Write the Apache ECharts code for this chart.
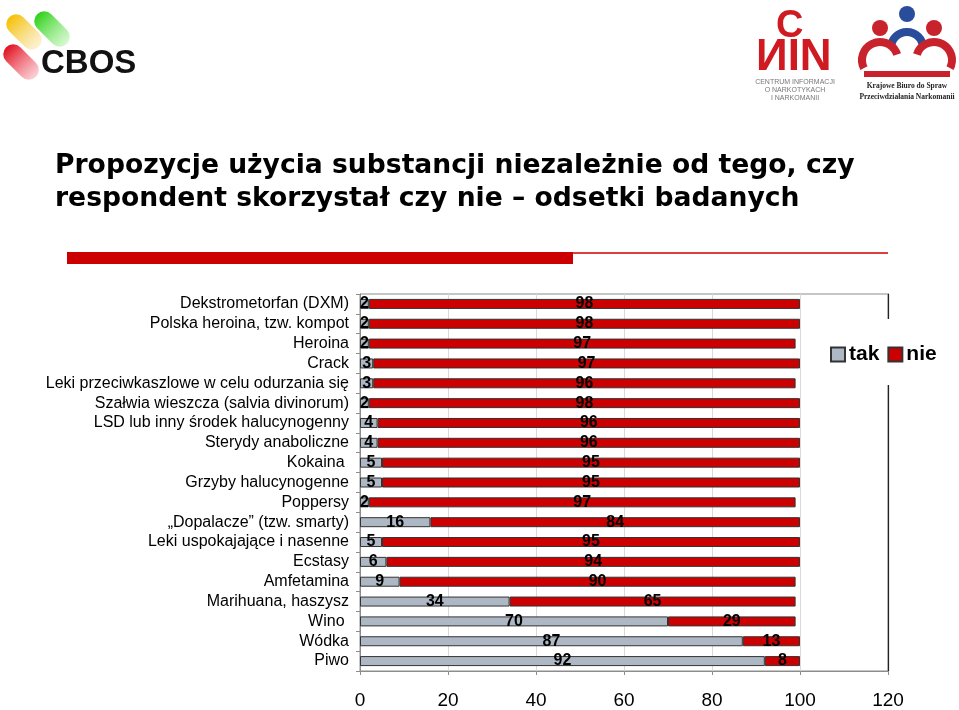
<!DOCTYPE html>
<html><head><meta charset="utf-8">
<script src="https://cdn.jsdelivr.net/npm/echarts@6/dist/echarts.min.js"></script>
<style>html,body{margin:0;padding:0;background:#fff}#c{width:959px;height:710px}</style>
</head><body><div id="c"></div>
<script>
const categories = ["Dekstrometorfan (DXM)","Polska heroina, tzw. kompot","Heroina","Crack","Leki przeciwkaszlowe w celu odurzania się","Szałwia wieszcza (salvia divinorum)","LSD lub inny środek halucynogenny","Sterydy anaboliczne","Kokaina ","Grzyby halucynogenne","Poppersy","„Dopalacze” (tzw. smarty)","Leki uspokajające i nasenne","Ecstasy","Amfetamina","Marihuana, haszysz","Wino ","Wódka","Piwo"];
const tak = [2,2,2,3,3,2,4,4,5,5,2,16,5,6,9,34,70,87,92];
const nie = [98,98,97,97,96,98,96,96,95,95,97,84,95,94,90,65,29,13,8];
const xTicks = [0,20,40,60,80,100,120];
const seriesNames = ["tak","nie"];

const chart = echarts.init(document.getElementById('c'));
const lbl = {show:true, position:'inside', color:'#000', fontFamily:'Arial, Liberation Sans', fontSize:16, fontWeight:'bold'};
function pill(cx, cy, c1, c2){
  return {type:'rect', x:cx, y:cy, rotation:Math.PI*0.25, shape:{x:-10, y:-21, width:20, height:42, r:10},
    style:{fill:{type:'linear',x:0,y:0,x2:0,y2:1,colorStops:[{offset:0,color:c1},{offset:1,color:c2}]}}};
}
chart.setOption({
  animation:false,
  backgroundColor:'#fff',
  grid:{left:360, right:71, top:294, bottom:39, show:true, borderColor:'#8c8c8c', borderWidth:1, backgroundColor:'transparent'},
  legend:{
    data:seriesNames, left:826, top:319, orient:'horizontal', backgroundColor:'#fff',
    padding:[25,8,20,4], itemGap:8, itemWidth:14, itemHeight:14, icon:'rect',
    textStyle:{fontFamily:'Arial, Liberation Sans', fontSize:21, fontWeight:'bold', color:'#000', padding:[0,0,0,-1]}
  },
  xAxis:{type:'value', min:0, max:120, interval:20,
    axisLine:{show:true, lineStyle:{color:'#8c8c8c'}},
    axisTick:{show:true, length:4, lineStyle:{color:'#8c8c8c'}},
    splitLine:{show:true, lineStyle:{color:'#d9d9d9', width:1}},
    axisLabel:{formatter:v=>xTicks.includes(v)?String(v):'', fontFamily:'Arial, Liberation Sans', fontSize:19, color:'#000', margin:20}
  },
  yAxis:[{type:'category', data:categories, inverse:true,
    axisLine:{show:true, lineStyle:{color:'#8c8c8c'}},
    axisTick:{show:true, length:4, lineStyle:{color:'#8c8c8c'}},
    axisLabel:{interval:0, fontFamily:'Arial, Liberation Sans', fontSize:16, color:'#000', margin:11}
  },{type:'category', data:categories, inverse:true, position:'right',
    axisLine:{show:true, lineStyle:{color:'#222', width:1.2}}, axisTick:{show:false}, axisLabel:{show:false}, splitLine:{show:false}
  }],
  series:[
    {name:'tak', type:'bar', stack:'s', data:tak, barWidth:10, z:3,
     itemStyle:{color:'#AEB8C5', borderColor:'#333', borderWidth:1}, label:lbl},
    {name:'nie', type:'bar', stack:'s', data:nie, barWidth:10, z:3,
     itemStyle:{color:'#CC0000', borderColor:'#333', borderWidth:1}, label:lbl}
  ],
  graphic:[
    // title
    {type:'text', left:55, top:150, style:{text:'Propozycje użycia substancji niezależnie od tego, czy\nrespondent skorzystał czy nie – odsetki badanych', font:'bold 26.6px "DejaVu Sans", Verdana', fill:'#000', lineHeight:33}},
    {type:'rect', shape:{x:67, y:252, width:506, height:12}, style:{fill:'#CC0000'}},
    {type:'line', shape:{x1:573, y1:253, x2:888, y2:253}, style:{stroke:'#CC0000', lineWidth:1.5}},
    // CBOS logo
    pill(24, 32, '#F5C000', 'rgba(245,205,90,0.25)'),
    pill(52, 29, '#2FD018', 'rgba(100,228,80,0.25)'),
    pill(21, 62, '#E0101E', 'rgba(238,70,90,0.25)'),
    {type:'text', left:41, top:47, style:{text:'CBOS', font:'bold 33px Arial, "Liberation Sans"', fill:'#111'}},
    // CINN logo
    {type:'text', left:776, top:8, style:{text:'C', font:'bold 38px Arial, "Liberation Sans"', fill:'#D01A22'}},
    {type:'text', left:756, top:36, style:{text:'ИIN', font:'bold 44px Arial, "Liberation Sans"', fill:'#D01A22'}},
    {type:'text', x:795, y:78, style:{text:'CENTRUM INFORMACJI\nO NARKOTYKACH\nI NARKOMANII', font:'7px Arial, "Liberation Sans"', fill:'#777', align:'center', lineHeight:8}},
    // KBPN logo
    {type:'circle', shape:{cx:907, cy:14, r:8}, style:{fill:'#2A4D9B'}},
    {type:'circle', shape:{cx:880, cy:28, r:8}, style:{fill:'#C8232C'}},
    {type:'circle', shape:{cx:934, cy:28, r:8}, style:{fill:'#C8232C'}},
    {type:'arc', shape:{cx:907, cy:48, r:16, startAngle:Math.PI, endAngle:2*Math.PI}, style:{stroke:'#2A4D9B', lineWidth:8, fill:'none'}},
    {type:'arc', shape:{cx:880, cy:60, r:18, startAngle:Math.PI*0.85, endAngle:Math.PI*1.9}, style:{stroke:'#C8232C', lineWidth:8, fill:'none'}},
    {type:'arc', shape:{cx:934, cy:60, r:18, startAngle:Math.PI*1.1, endAngle:Math.PI*2.15}, style:{stroke:'#C8232C', lineWidth:8, fill:'none'}},
    {type:'line', shape:{x1:864, y1:74, x2:950, y2:74}, style:{stroke:'#C8232C', lineWidth:6}},
    {type:'text', x:907, y:81, style:{text:'Krajowe Biuro do Spraw\nPrzeciwdziałania Narkomanii', font:'bold 7.5px "Liberation Serif", "DejaVu Serif"', fill:'#222', align:'center', lineHeight:11}}
  ]
});
</script></body></html>
